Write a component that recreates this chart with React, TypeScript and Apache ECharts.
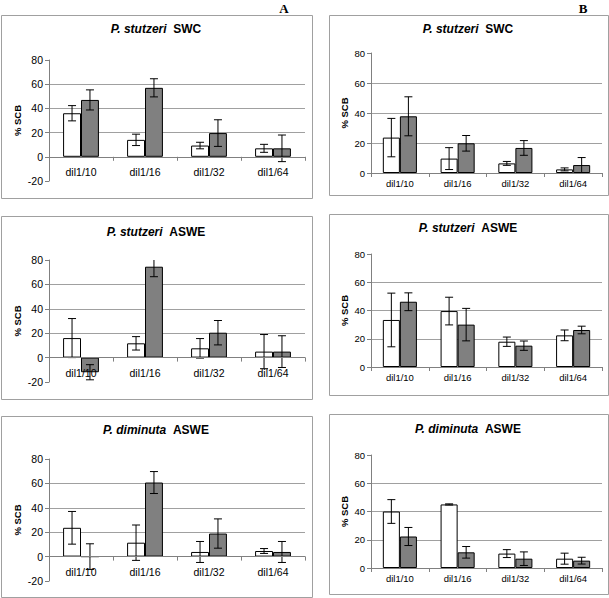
import React, { useEffect, useRef } from 'react';
import * as echarts from 'echarts';

const categories = ['dil1/10', 'dil1/16', 'dil1/32', 'dil1/64'];

// Panel A1: P. stutzeri SWC
const a1White = [36, 14, 9.3, 7];
const a1WhiteErr = [6.3, 4.7, 2.7, 3.3];
const a1Gray = [47, 57, 19.6, 7];
const a1GrayErr = [8.3, 7.5, 11, 11];
// Panel A2: P. stutzeri ASWE
const a2White = [16, 11.7, 7.6, 4.9];
const a2WhiteErr = [16, 5.5, 8, 14];
const a2Gray = [-12, 74.5, 20.4, 4.9];
const a2GrayErr = [6.2, 8.2, 10, 13];
// Panel A3: P. diminuta ASWE
const a3White = [23.6, 11.4, 3.8, 4.6];
const a3WhiteErr = [13.4, 14.5, 8.6, 2];
const a3Gray = [0, 60.7, 18.9, 3.8];
const a3GrayErr = [10.5, 9, 12, 8.6];
// Panel B1: P. stutzeri SWC
const b1White = [23.6, 9.6, 6.4, 2.4];
const b1WhiteErr = [12.8, 7.3, 1.3, 1];
const b1Gray = [37.8, 19.8, 16.7, 5.3];
const b1GrayErr = [13, 5.2, 4.9, 5];
// Panel B2: P. stutzeri ASWE
const b2White = [33.3, 39.6, 17.9, 22.4];
const b2WhiteErr = [19, 9.8, 3.3, 3.8];
const b2Gray = [46.2, 30, 15.1, 26.2];
const b2GrayErr = [6.3, 11.5, 3.3, 2.7];
// Panel B3: P. diminuta ASWE
const b3White = [40, 45, 10.2, 6.6];
const b3WhiteErr = [8.4, 0.4, 2.8, 3.9];
const b3Gray = [22.3, 11.1, 6.6, 5.2];
const b3GrayErr = [6.4, 4.1, 4.8, 2.4];

const yMaxAll = 80;
const yInterval = 20;
const yMinA = -20;
const yMinB = 0;

const FONT = '"Liberation Sans", Arial, sans-serif';

type Panel = {
  species: string;
  medium: string;
  white: number[];
  whiteErr: number[];
  gray: number[];
  grayErr: number[];
  min: number;
  grid: { left: number; top: number; width: number; height: number };
  box: [number, number, number, number];
  titleXY: [number, number];
  gap: number;
  fs: number;
  nameGap: number;
  labelMargin: number;
};

const panels: Panel[] = [
  { species: 'P. stutzeri', medium: 'SWC', white: a1White, whiteErr: a1WhiteErr, gray: a1Gray, grayErr: a1GrayErr, min: yMinA,
    grid: { left: 49, top: 60, width: 256, height: 121 }, box: [1, 15, 311, 183], titleXY: [156, 29], gap: 0.44, fs: 10.5, nameGap: 27, labelMargin: 10 },
  { species: 'P. stutzeri', medium: 'ASWE', white: a2White, whiteErr: a2WhiteErr, gray: a2Gray, grayErr: a2GrayErr, min: yMinA,
    grid: { left: 49, top: 260, width: 256, height: 122 }, box: [1, 216, 311, 183], titleXY: [156, 232], gap: 0.44, fs: 10.5, nameGap: 27, labelMargin: 10 },
  { species: 'P. diminuta', medium: 'ASWE', white: a3White, whiteErr: a3WhiteErr, gray: a3Gray, grayErr: a3GrayErr, min: yMinA,
    grid: { left: 49, top: 459, width: 256, height: 122 }, box: [1, 416, 311, 181], titleXY: [156, 430], gap: 0.44, fs: 10.5, nameGap: 27, labelMargin: 10 },
  { species: 'P. stutzeri', medium: 'SWC', white: b1White, whiteErr: b1WhiteErr, gray: b1Gray, grayErr: b1GrayErr, min: yMinB,
    grid: { left: 371, top: 53, width: 231, height: 120 }, box: [329, 15, 279, 180], titleXY: [468, 29], gap: 0.41, fs: 9.5, nameGap: 22, labelMargin: 5 },
  { species: 'P. stutzeri', medium: 'ASWE', white: b2White, whiteErr: b2WhiteErr, gray: b2Gray, grayErr: b2GrayErr, min: yMinB,
    grid: { left: 371, top: 254, width: 231, height: 113 }, box: [329, 214, 279, 181], titleXY: [468, 228], gap: 0.41, fs: 9.5, nameGap: 22, labelMargin: 5 },
  { species: 'P. diminuta', medium: 'ASWE', white: b3White, whiteErr: b3WhiteErr, gray: b3Gray, grayErr: b3GrayErr, min: yMinB,
    grid: { left: 371, top: 455, width: 231, height: 113 }, box: [329, 414, 279, 180], titleXY: [468, 429], gap: 0.41, fs: 9.5, nameGap: 22, labelMargin: 5 },
];

function buildOption() {
  const grid: any[] = [];
  const xAxis: any[] = [];
  const yAxis: any[] = [];
  const series: any[] = [];
  const graphic: any[] = [];

  panels.forEach((p, i) => {
    grid.push({ ...p.grid, containLabel: false });
    // shift the category axis (line + labels) up to the zero level of the value axis
    const zeroOffset = -(p.grid.height * (0 - p.min)) / (yMaxAll - p.min);
    xAxis.push({
      type: 'category',
      gridIndex: i,
      data: categories,
      z: 5,
      offset: zeroOffset,
      axisLine: { show: true, onZero: false, lineStyle: { color: '#808080', width: 1 } },
      axisTick: { show: true, length: 4, lineStyle: { color: '#808080' } },
      axisLabel: { interval: 0, fontSize: p.fs, fontFamily: FONT, color: '#000', margin: p.labelMargin },
      splitLine: { show: false },
    });
    yAxis.push({
      type: 'value',
      gridIndex: i,
      min: p.min,
      max: yMaxAll,
      interval: yInterval,
      name: '% SCB',
      nameLocation: 'middle',
      nameGap: p.nameGap,
      nameRotate: 90,
      nameTextStyle: { fontWeight: 'bold', fontSize: 9.5, fontFamily: FONT, color: '#000' },
      axisLine: { show: true, lineStyle: { color: '#808080', width: 1 } },
      axisTick: { show: true, length: 4, lineStyle: { color: '#808080' } },
      axisLabel: { fontSize: p.fs, fontFamily: FONT, color: '#000', margin: 6 },
      splitLine: { show: true, showMinLine: false, showMaxLine: false, lineStyle: { color: '#a0a0a0', width: 1 } },
    });
    const gapPct = Math.round(p.gap * 100) + '%';
    series.push({
      type: 'bar', xAxisIndex: i, yAxisIndex: i, data: p.white, barGap: '0%', barCategoryGap: gapPct,
      itemStyle: { color: '#ffffff', borderColor: '#000', borderWidth: 1 }, silent: true, z: 2,
    });
    series.push({
      type: 'bar', xAxisIndex: i, yAxisIndex: i, data: p.gray, barGap: '0%', barCategoryGap: gapPct,
      itemStyle: { color: '#808080', borderColor: '#000', borderWidth: 1 }, silent: true, z: 2,
    });
    const errData: number[][] = [];
    p.white.forEach((v, k) => errData.push([k, v, p.whiteErr[k], 0]));
    p.gray.forEach((v, k) => errData.push([k, v, p.grayErr[k], 1]));
    const gap = p.gap;
    series.push({
      type: 'custom', xAxisIndex: i, yAxisIndex: i, data: errData, encode: { x: 0, y: 1 }, z: 4, silent: true, clip: true,
      renderItem: (params: any, api: any) => {
        const cat = api.value(0);
        const mean = api.value(1);
        const err = api.value(2);
        const side = api.value(3);
        const band = api.size([1, 0])[0];
        const bw = (band * (1 - gap)) / 2;
        const c = api.coord([cat, mean]);
        const x = c[0] + (side === 0 ? -bw / 2 : bw / 2);
        const yt = api.coord([cat, mean + err])[1];
        const yb = api.coord([cat, mean - err])[1];
        const cap = 4;
        const st = { stroke: '#000', lineWidth: 1 };
        return {
          type: 'group',
          children: [
            { type: 'line', shape: { x1: x, y1: yt, x2: x, y2: yb }, style: st },
            { type: 'line', shape: { x1: x - cap, y1: yt, x2: x + cap, y2: yt }, style: st },
            { type: 'line', shape: { x1: x - cap, y1: yb, x2: x + cap, y2: yb }, style: st },
          ],
        };
      },
    });
    graphic.push({
      type: 'rect',
      shape: { x: p.box[0] + 0.5, y: p.box[1] + 0.5, width: p.box[2], height: p.box[3] },
      style: { fill: 'none', stroke: '#a0a0a0', lineWidth: 1 },
      silent: true,
    });
    graphic.push({
      type: 'text',
      x: p.titleXY[0],
      y: p.titleXY[1],
      style: {
        text: '{i|' + p.species + '}  {b|' + p.medium + '}',
        rich: {
          i: { fontStyle: 'italic', fontWeight: 'bold', fontSize: 12, fontFamily: FONT, fill: '#000' },
          b: { fontWeight: 'bold', fontSize: 12, fontFamily: FONT, fill: '#000' },
        },
        fontSize: 12,
        fontWeight: 'bold',
        fontFamily: FONT,
        align: 'center',
        verticalAlign: 'middle',
      },
      silent: true,
    });
  });

  graphic.push({
    type: 'text', x: 284, y: 8,
    style: { text: 'A', fontFamily: '"Liberation Serif", "Times New Roman", serif', fontWeight: 'bold', fontSize: 13, fill: '#000', align: 'center', verticalAlign: 'middle' },
  });
  graphic.push({
    type: 'text', x: 583, y: 8,
    style: { text: 'B', fontFamily: '"Liberation Serif", "Times New Roman", serif', fontWeight: 'bold', fontSize: 13, fill: '#000', align: 'center', verticalAlign: 'middle' },
  });

  return {
    animation: false,
    backgroundColor: '#ffffff',
    grid,
    xAxis,
    yAxis,
    series,
    graphic,
  };
}

export default function App() {
  const ref = useRef<HTMLDivElement>(null);
  useEffect(() => {
    document.body.style.margin = '0';
    if (!ref.current) return;
    const chart = echarts.init(ref.current, undefined, { renderer: 'svg' });
    chart.setOption(buildOption() as any);
    return () => {
      chart.dispose();
    };
  }, []);
  return <div ref={ref} style={{ width: 609, height: 598 }} />;
}
